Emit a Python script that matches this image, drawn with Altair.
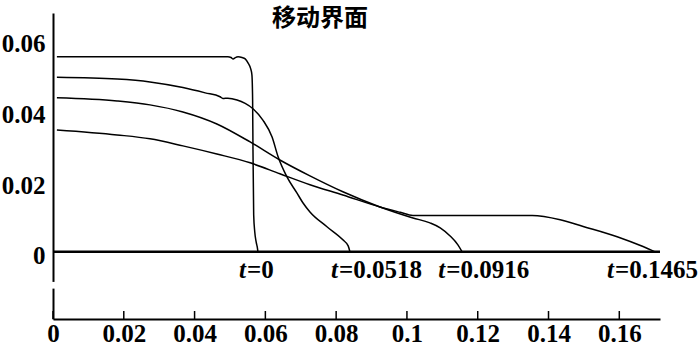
import altair as alt
import pandas as pd

# ---------------- data ----------------
title_text = "移动界面"

# curve t=0
a_x = [0.0011, 0.0274, 0.0494, 0.0503, 0.0509, 0.0514, 0.0523, 0.0534, 0.0543,
       0.0551, 0.0558, 0.0562, 0.0564, 0.0565, 0.0567, 0.0570, 0.0574, 0.0578, 0.0579]
a_y = [0.0552, 0.0552, 0.0552, 0.0550, 0.0546, 0.0549, 0.0552, 0.0550, 0.0546,
       0.0535, 0.0520, 0.0501, 0.0430, 0.0289, 0.0105, 0.0057, 0.0028, 0.0008, 0.0]

# curve t=0.0518
b_x = [0.0011, 0.0181, 0.0274, 0.0367, 0.0430, 0.0472, 0.0480, 0.0494, 0.0520, 0.0543,
       0.0565, 0.0593, 0.0619, 0.0636, 0.0661, 0.0689, 0.0706, 0.0726, 0.0774, 0.0819,
       0.0834, 0.0839]
b_y = [0.0494, 0.0489, 0.0481, 0.0465, 0.0450, 0.0439, 0.0434, 0.0435, 0.0430, 0.0420,
       0.0405, 0.0373, 0.0325, 0.0269, 0.0212, 0.0167, 0.0139, 0.0113, 0.0071, 0.0034,
       0.0017, 0.0]

# curve t=0.0916
c_x = [0.0011, 0.0181, 0.0274, 0.0367, 0.0463, 0.0557, 0.0641, 0.0726, 0.0819, 0.0924,
       0.1017, 0.1065, 0.1094, 0.1122, 0.1144, 0.1156]
c_y = [0.0436, 0.0427, 0.0416, 0.0396, 0.0362, 0.0311, 0.0260, 0.0215, 0.0170, 0.0127,
       0.0096, 0.0082, 0.0068, 0.0045, 0.0020, 0.0]

# curve t=0.1465
d_x = [0.0011, 0.0181, 0.0274, 0.0367, 0.0463, 0.0557, 0.0641, 0.0726, 0.0819, 0.0924,
       0.0981, 0.1017, 0.1094, 0.1354, 0.1433, 0.1498, 0.1594, 0.1667, 0.1701]
d_y = [0.0345, 0.0331, 0.0320, 0.0300, 0.0277, 0.0252, 0.0221, 0.0190, 0.0161, 0.0127,
       0.0112, 0.0103, 0.0103, 0.0103, 0.0091, 0.0072, 0.0043, 0.0015, 0.0]

series_names = ["t=0", "t=0.0518", "t=0.0916", "t=0.1465"]

label_time = ["0", "0.0518", "0.0916", "0.1465"]
label_x = [0.0545, 0.0805, 0.1108, 0.1585]

x_ticks = [0, 0.02, 0.04, 0.06, 0.08, 0.1, 0.12, 0.14, 0.16]
y_ticks = [0, 0.02, 0.04, 0.06]
x_domain = [0, 0.1715]
y_domain = [-0.019, 0.0676]
axis_break = [-0.0085, -0.0104]

# ---------------- build tables ----------------
rows = []
for name, xs, ys in zip(series_names, [a_x, b_x, c_x, d_x], [a_y, b_y, c_y, d_y]):
    for i, (xv, yv) in enumerate(zip(xs, ys)):
        rows.append({"series": name, "x": xv, "y": yv, "order": i})
curves = pd.DataFrame(rows)
labels = pd.DataFrame({"x": label_x, "t": ["t"] * len(label_x),
                       "rest": ["=" + s for s in label_time]})
ticks = pd.DataFrame({"x": x_ticks})
zero_df = pd.DataFrame({"y": [0.0]})
break_df = pd.DataFrame({"y": [axis_break[0]], "y2": [axis_break[1]]})
title_df = pd.DataFrame({"text": [title_text]})

W, H = 607, 306
SERIF = "Liberation Serif"
FS = 25

xscale = alt.Scale(domain=x_domain, nice=False, zero=False)
yscale = alt.Scale(domain=y_domain, nice=False, zero=False)

x_axis = alt.Axis(values=x_ticks, format="~g", title=None, grid=False, ticks=False,
                  tickSize=0, labelPadding=2, labelFont=SERIF, labelFontSize=FS,
                  labelFontWeight="bold", labelColor="black", domainColor="black",
                  domainWidth=2, labelFlush=False, labelOverlap=False)
y_axis = alt.Axis(values=y_ticks, format="~g", title=None, grid=False, ticks=False,
                  tickSize=0, labelPadding=8, labelFont=SERIF, labelFontSize=FS,
                  labelFontWeight="bold", labelColor="black", domainColor="black",
                  domainWidth=2, labelFlush=False, labelOverlap=False, labelOffset=4)

lines = alt.Chart(curves).mark_line(color="black", strokeWidth=1.5,
                                    interpolate="monotone").encode(
    x=alt.X("x:Q", scale=xscale, axis=x_axis),
    y=alt.Y("y:Q", scale=yscale, axis=y_axis),
    detail="series:N",
    order="order:Q",
)

zero_line = alt.Chart(zero_df).mark_rule(color="black", strokeWidth=2.5).encode(
    y=alt.Y("y:Q", scale=yscale)
)

tick_marks = alt.Chart(ticks).mark_rule(color="black", strokeWidth=1.5).encode(
    x=alt.X("x:Q", scale=xscale),
    y=alt.value(H),
    y2=alt.value(H - 8),
)

axis_gap = alt.Chart(break_df).mark_rule(color="white", strokeWidth=6).encode(
    x=alt.value(0),
    y=alt.Y("y:Q", scale=yscale),
    y2="y2:Q",
)

t_text = alt.Chart(labels).mark_text(
    font=SERIF, fontSize=FS, fontWeight="bold", fontStyle="italic",
    align="right", baseline="alphabetic", dy=26, color="black"
).encode(x=alt.X("x:Q", scale=xscale), y=alt.datum(0), text="t:N")

rest_text = alt.Chart(labels).mark_text(
    font=SERIF, fontSize=FS, fontWeight="bold",
    align="left", baseline="alphabetic", dy=26, dx=1, color="black"
).encode(x=alt.X("x:Q", scale=xscale), y=alt.datum(0), text="rest:N")

title_mark = alt.Chart(title_df).mark_text(
    font="Noto Sans CJK SC", fontSize=24, fontWeight="bold",
    align="center", baseline="middle", color="black"
).encode(x=alt.value(267), y=alt.value(6), text="text:N")

chart = alt.layer(
    zero_line, lines, tick_marks, axis_gap, t_text, rest_text, title_mark
).properties(
    width=W, height=H,
    autosize=alt.AutoSizeParams(type="none"),
    padding={"left": 53, "top": 13, "right": 40, "bottom": 35},
    background="white",
).configure_view(stroke=None)

chart.save("out.html", embed_options={"renderer": "svg", "actions": False})
